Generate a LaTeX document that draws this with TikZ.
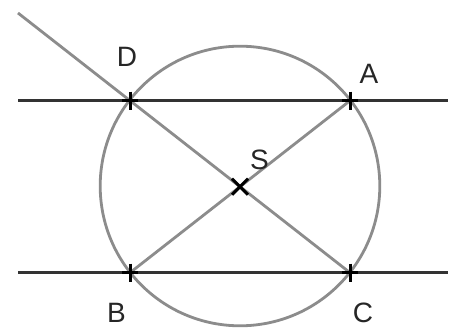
\documentclass[tikz,border=0pt]{standalone}
\usepackage{fontspec}
\setmainfont{Liberation Sans}
\usetikzlibrary{calc}
\begin{document}
\begin{tikzpicture}[x=1pt,y=-1pt,
  darkline/.style={draw=black!80,line width=3.4pt},
  grayline/.style={draw=black!45,line width=2.8pt},
  tick/.style={draw=black,line width=3pt},
  lbl/.style={font=\fontsize{28}{28}\selectfont,text=black!85,inner sep=0pt}]
\useasboundingbox (0,0) rectangle (459,329);
\fill[white] (0,0) rectangle (459,329);
\coordinate (D) at (130,100.7);
\coordinate (A) at (350,100.7);
\coordinate (B) at (130,272.7);
\coordinate (C) at (350,272.7);
\coordinate (S) at (240,186.7);
\coordinate (L1) at (18,100.7);
\coordinate (R1) at (448,100.7);
\coordinate (L2) at (18,272.7);
\coordinate (R2) at (448,272.7);
\coordinate (T) at (18,13);
\draw[grayline] (240,186) circle (139.8);
\draw[grayline] (T) -- (C);
\draw[grayline] (B) -- (A);
\draw[darkline] (L1) -- (R1);
\draw[darkline] (L2) -- (R2);
\foreach \p in {D,A,B,C}{
  \draw[tick] ($(\p)+(-8,0)$) -- ($(\p)+(8,0)$);
  \draw[tick] ($(\p)+(0,-9)$) -- ($(\p)+(0,9)$);
}
\draw[tick] ($(S)+(-8,-8)$) -- ($(S)+(8,8)$);
\draw[tick] ($(S)+(-8,8)$) -- ($(S)+(8,-8)$);
\node[lbl] (nD) at (127,57) {D};
\node[lbl] (nA) at (369,73.5) {A};
\node[lbl] (nS) at (259.5,159.5) {S};
\node[lbl] (nB) at (116.5,313) {B};
\node[lbl] (nC) at (363,313) {C};
\end{tikzpicture}
\end{document}
